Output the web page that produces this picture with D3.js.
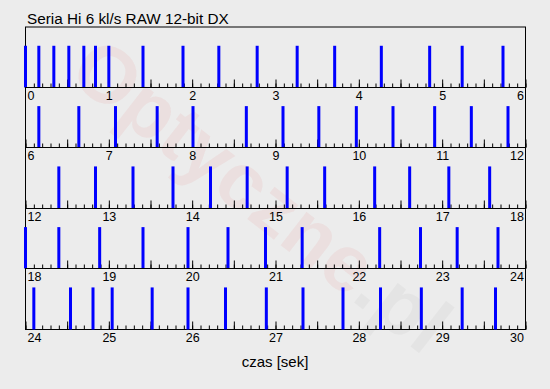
<!DOCTYPE html>
<html>
<head>
<meta charset="utf-8">
<script src="https://cdn.jsdelivr.net/npm/d3@7"></script>
<style>
  html, body { margin: 0; padding: 0; background: #ececec; }
  svg { display: block; font-family: "Liberation Sans", Arial, sans-serif; }
</style>
</head>
<body>
<div id="chart"></div>
<script>
// momenty wyzwolenia migawki (sekundy)
const shotTimes = [
  0.00, 0.16, 0.34, 0.52, 0.70, 0.84, 1.00, 1.41, 1.89, 2.32, 2.78, 3.26, 3.71, 4.27, 4.85, 5.24, 5.73,
  6.16, 6.64, 7.08, 7.58, 8.01, 8.65, 9.09, 9.52, 9.97, 10.41, 10.91, 11.35, 11.79,
  12.40, 12.84, 13.29, 13.77, 14.22, 14.66, 15.14, 15.59, 16.19, 16.61, 17.08, 17.57,
  18.00, 18.40, 18.89, 19.41, 19.95, 20.43, 20.88, 21.32, 22.25, 22.74, 23.18, 23.67,
  24.10, 24.54, 24.81, 25.04, 25.52, 25.95, 26.40, 26.89, 27.33, 27.81, 28.26, 28.75, 29.24, 29.64
];
const stripStarts = [0, 6, 12, 18, 24];
const stripSpan = 6;
const shotLevel = 1;
const title = "Seria Hi 6 kl/s RAW 12-bit DX";
const xTitle = "czas [sek]";

const width = 550, height = 389;
const plotLeft = 25.5, plotRight = 525.5, plotTop = 26.5, stripH = 60.4;

const svg = d3.select("#chart").append("svg")
  .attr("width", width).attr("height", height);

svg.append("rect").attr("width", width).attr("height", height).attr("fill", "#ececec");

// znak wodny
const wm = svg.append("text")
  .attr("transform", "translate(262,195) rotate(38)")
  .attr("text-anchor", "middle")
  .attr("dominant-baseline", "central")
  .attr("font-size", 80)
  .attr("font-weight", "bold");
wm.append("tspan").attr("fill", "rgba(225,60,60,0.07)").text("Optyczne");
wm.append("tspan").attr("fill", "rgba(0,0,0,0.03)").text(".pl");

svg.append("text")
  .attr("x", 27).attr("y", 24)
  .attr("font-size", 15.3)
  .text(title);

stripStarts.forEach((s, i) => {
  const y0 = Math.round(plotTop + stripH * i) + 0.5 - (i === 0 ? 0.5 : 0);
  const y1 = Math.round(plotTop + stripH * (i + 1)) + 0.5;
  const x = d3.scaleLinear().domain([s, s + stripSpan]).range([plotLeft, plotRight]);
  const y = d3.scaleLinear().domain([0, 1.45]).range([y1, y0]);

  const g = svg.append("g");

  g.append("rect")
    .attr("x", plotLeft).attr("y", y0)
    .attr("width", plotRight - plotLeft).attr("height", y1 - y0)
    .attr("fill", "none").attr("stroke", "#000").attr("stroke-width", 1);

  // drobne podziałki co 0.1 s
  const minor = g.append("g").attr("transform", `translate(0,${y1})`)
    .call(d3.axisBottom(x)
      .tickValues(d3.range(0, stripSpan * 10 + 1).map(k => s + k / 10))
      .tickSize(-4).tickSizeOuter(0).tickFormat(""));
  const half = g.append("g").attr("transform", `translate(0,${y1})`)
    .call(d3.axisBottom(x)
      .tickValues(d3.range(0, stripSpan).map(k => s + k + 0.5))
      .tickSize(-8).tickSizeOuter(0).tickFormat(""));
  const major = g.append("g").attr("transform", `translate(0,${y1})`)
    .call(d3.axisBottom(x)
      .tickValues(d3.range(s, s + stripSpan + 1))
      .tickSize(-8).tickSizeOuter(0).tickPadding(4)
      .tickFormat(d3.format("d")));

  [minor, half, major].forEach(a => {
    a.select(".domain").remove();
    a.selectAll("line").attr("stroke", "#000");
  });
  major.selectAll("text")
    .attr("font-size", 12.5)
    .attr("font-family", "Liberation Sans, Arial, sans-serif")
    .attr("fill", "#000");
  major.selectAll(".tick").filter((d, k) => k === 0).select("text")
    .attr("text-anchor", "start").attr("x", 1.5);
  major.selectAll(".tick").filter((d, k) => k === stripSpan).select("text")
    .attr("text-anchor", "end").attr("x", -2);

  const shots = shotTimes.filter(t => t >= s && t < s + stripSpan);
  g.selectAll(".shot").data(shots).enter().append("rect")
    .attr("class", "shot")
    .attr("x", d => x(d) - 1.5)
    .attr("width", 3)
    .attr("y", y(shotLevel))
    .attr("height", y(0) - y(shotLevel))
    .attr("fill", "#0000ff");
});

svg.append("text")
  .attr("x", 275).attr("y", 367)
  .attr("text-anchor", "middle")
  .attr("font-size", 15)
  .text(xTitle);
</script>
</body>
</html>
